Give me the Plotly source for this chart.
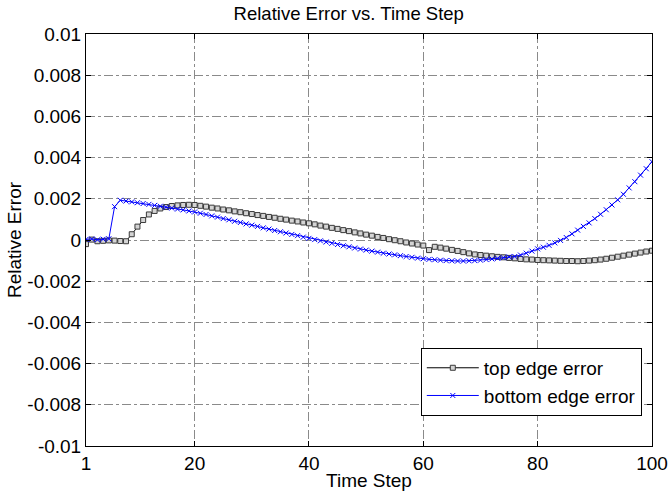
import plotly.graph_objects as go

# Time steps 1..100
time_step = list(range(1, 101))

# Relative error along the top edge
top_edge_error = [
    -0.00020, 0.00002, -0.00006, -0.00004, -0.00002, -0.00003, -0.00005, -0.00006, 0.00028, 0.00065,
    0.00097, 0.00124, 0.00141, 0.00153, 0.00160, 0.00165, 0.00168, 0.00170, 0.00171, 0.00170,
    0.00166, 0.00162, 0.00157, 0.00153, 0.00148, 0.00144, 0.00139, 0.00135, 0.00130, 0.00126,
    0.00121, 0.00117, 0.00112, 0.00108, 0.00103, 0.00099, 0.00094, 0.00090, 0.00085, 0.00081,
    0.00076, 0.00070, 0.00065, 0.00059, 0.00054, 0.00048, 0.00043, 0.00037, 0.00032, 0.00026,
    0.00021, 0.00015, 0.00010, 0.00004, -0.00001, -0.00006, -0.00012, -0.00017, -0.00022, -0.00027,
    -0.00049, -0.00033, -0.00037, -0.00042, -0.00048, -0.00053, -0.00059, -0.00065, -0.00070, -0.00073,
    -0.00076, -0.00079, -0.00082, -0.00084, -0.00087, -0.00089, -0.00092, -0.00094, -0.00095, -0.00097,
    -0.00098, -0.00099, -0.00100, -0.00101, -0.00102, -0.00102, -0.00103, -0.00102, -0.00100, -0.00098,
    -0.00095, -0.00091, -0.00086, -0.00081, -0.00076, -0.00071, -0.00066, -0.00061, -0.00056, -0.00052,
]

# Relative error along the bottom edge
bottom_edge_error = [
    0.00003, 0.00005, 0.00001, 0.00004, 0.00006, 0.00162, 0.00193, 0.00189, 0.00185, 0.00181,
    0.00177, 0.00173, 0.00168, 0.00164, 0.00159, 0.00155, 0.00150, 0.00146, 0.00141, 0.00136,
    0.00130, 0.00124, 0.00117, 0.00111, 0.00104, 0.00098, 0.00091, 0.00085, 0.00078, 0.00072,
    0.00066, 0.00059, 0.00053, 0.00046, 0.00040, 0.00034, 0.00027, 0.00021, 0.00014, 0.00008,
    0.00002, -0.00004, -0.00010, -0.00016, -0.00022, -0.00028, -0.00033, -0.00039, -0.00044, -0.00049,
    -0.00054, -0.00059, -0.00064, -0.00068, -0.00072, -0.00076, -0.00080, -0.00084, -0.00088, -0.00091,
    -0.00094, -0.00096, -0.00098, -0.00100, -0.00101, -0.00102, -0.00102, -0.00101, -0.00100, -0.00098,
    -0.00095, -0.00092, -0.00089, -0.00086, -0.00082, -0.00080, -0.00073, -0.00064, -0.00054, -0.00043,
    -0.00035, -0.00026, -0.00014, -0.00002, 0.00012, 0.00030, 0.00048, 0.00066, 0.00083, 0.00104,
    0.00125, 0.00147, 0.00170, 0.00195, 0.00222, 0.00253, 0.00283, 0.00315, 0.00346, 0.00380,
]

x_tick_vals = [1, 20, 40, 60, 80, 100]
y_tick_vals = [-0.01, -0.008, -0.006, -0.004, -0.002, 0, 0.002, 0.004, 0.006, 0.008, 0.01]
y_tick_text = ["-0.01", "-0.008", "-0.006", "-0.004", "-0.002", "0",
               "0.002", "0.004", "0.006", "0.008", "0.01"]

FONT = "Arial, Liberation Sans, sans-serif"

fig = go.Figure()
fig.add_trace(go.Scatter(
    x=time_step, y=top_edge_error, mode="lines+markers", name="top edge error",
    line=dict(color="black", width=1),
    marker=dict(symbol="square", size=5, color="#d4d4d4", line=dict(width=1, color="#3a3a3a")),
))
fig.add_trace(go.Scatter(
    x=time_step, y=bottom_edge_error, mode="lines+markers", name="bottom edge error",
    line=dict(color="#0000ff", width=1),
    marker=dict(symbol="x-thin-open", size=5, color="#0000ff", line=dict(width=1, color="#0000ff")),
))

axis_common = dict(
    showline=True, linecolor="black", linewidth=1, mirror="ticks",
    ticks="inside", ticklen=5, tickcolor="black",
    showgrid=True, gridcolor="#8a8a8a", gridwidth=1, griddash="dashdot",
    zeroline=False, automargin=False,
    tickfont=dict(family=FONT, size=19, color="black"),
)

fig.update_xaxes(
    range=[1, 100], tickvals=x_tick_vals,
    title=dict(text="Time Step", font=dict(family=FONT, size=19, color="black"), standoff=0),
    **axis_common,
)
fig.update_yaxes(
    range=[-0.01, 0.01], tickvals=y_tick_vals, ticktext=y_tick_text,
    title=dict(text="Relative Error", font=dict(family=FONT, size=19, color="black"), standoff=0),
    **axis_common,
)

fig.update_layout(
    width=672, height=494,
    margin=dict(l=86, r=20, t=34, b=48),
    paper_bgcolor="white", plot_bgcolor="white",
    title=dict(text="Relative Error vs. Time Step", x=0.519, xanchor="center",
               y=0.973, yanchor="middle",
               font=dict(family=FONT, size=18.5, color="black")),
    legend=dict(
        x=0.982, y=0.073, xanchor="right", yanchor="bottom",
        bgcolor="white", bordercolor="black", borderwidth=1,
        font=dict(family=FONT, size=19, color="black"),
        tracegroupgap=0, itemwidth=52,
    ),
    showlegend=True,
)

fig.write_html("out.html")
